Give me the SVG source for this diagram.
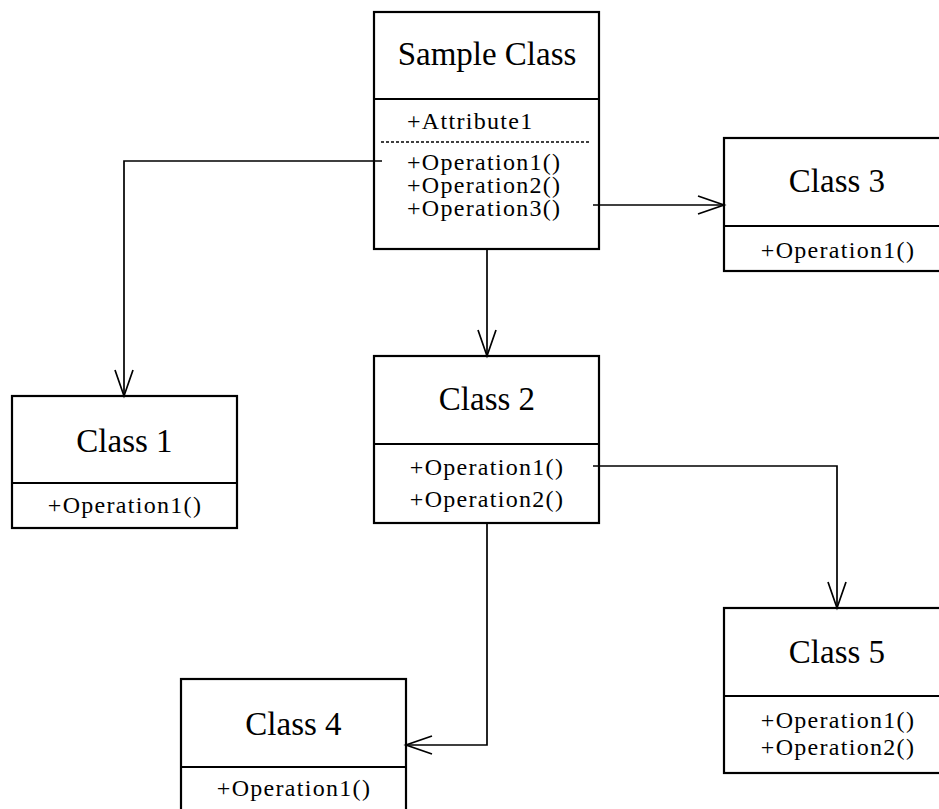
<svg xmlns="http://www.w3.org/2000/svg" width="939" height="809" viewBox="0 0 939 809">
<style>
.box{fill:#fff;stroke:#000;stroke-width:2.2}
.div{stroke:#000;stroke-width:2.2}
.dash{stroke:#000;stroke-width:1.4;stroke-dasharray:3 2}
.title{font-family:"Liberation Serif","Times New Roman",serif;font-size:33px;text-anchor:middle;fill:#000}
.op{font-family:"Liberation Serif","Times New Roman",serif;font-size:24px;letter-spacing:1.3px;fill:#000}
.c{text-anchor:middle}
.conn{fill:none;stroke:#000;stroke-width:1.7}
</style>
<defs>
<marker id="arr" viewBox="-28 -11 30 22" refX="0" refY="0" markerWidth="30" markerHeight="22" markerUnits="userSpaceOnUse" orient="auto" overflow="visible">
<path d="M -26 -9 L 0 0 L -26 9" fill="none" stroke="#000" stroke-width="1.7"/>
</marker>
</defs>
<rect width="939" height="809" fill="#fff"/>
<g id="sample-class">
<rect class="box" x="374" y="12" width="225" height="237"/>
<line class="div" x1="374" y1="99" x2="599" y2="99"/>
<line class="dash" x1="381" y1="142" x2="591" y2="142"/>
<text class="title" x="487" y="65">Sample Class</text>
<text class="op" x="407" y="129">+Attribute1</text>
<text class="op" x="407" y="170">+Operation1()</text>
<text class="op" x="407" y="193">+Operation2()</text>
<text class="op" x="407" y="216">+Operation3()</text>
</g>
<g id="class1">
<rect class="box" x="12" y="396" width="225" height="132"/>
<line class="div" x1="12" y1="483" x2="237" y2="483"/>
<text class="title" x="124.5" y="452">Class 1</text>
<text class="op c" x="125" y="513">+Operation1()</text>
</g>
<g id="class2">
<rect class="box" x="374" y="356" width="225" height="167"/>
<line class="div" x1="374" y1="444" x2="599" y2="444"/>
<text class="title" x="487" y="410">Class 2</text>
<text class="op c" x="487" y="475">+Operation1()</text>
<text class="op c" x="487" y="507">+Operation2()</text>
</g>
<g id="class3">
<rect class="box" x="724" y="138" width="226" height="133"/>
<line class="div" x1="724" y1="226" x2="950" y2="226"/>
<text class="title" x="837" y="192">Class 3</text>
<text class="op c" x="838" y="258">+Operation1()</text>
</g>
<g id="class4">
<rect class="box" x="181" y="679" width="225" height="140"/>
<line class="div" x1="181" y1="767" x2="406" y2="767"/>
<text class="title" x="293.5" y="735">Class 4</text>
<text class="op c" x="294" y="796">+Operation1()</text>
</g>
<g id="class5">
<rect class="box" x="724" y="608" width="226" height="165"/>
<line class="div" x1="724" y1="696" x2="950" y2="696"/>
<text class="title" x="837" y="663">Class 5</text>
<text class="op c" x="838" y="728">+Operation1()</text>
<text class="op c" x="838" y="755">+Operation2()</text>
</g>
<g id="connectors">
<path class="conn" d="M 382 161 L 124 161 L 124 396" marker-end="url(#arr)"/>
<path class="conn" d="M 593 205 L 724 205" marker-end="url(#arr)"/>
<path class="conn" d="M 487 249 L 487 356" marker-end="url(#arr)"/>
<path class="conn" d="M 593 466 L 837 466 L 837 608" marker-end="url(#arr)"/>
<path class="conn" d="M 487 523 L 487 745 L 406 745" marker-end="url(#arr)"/>
</g>
</svg>
